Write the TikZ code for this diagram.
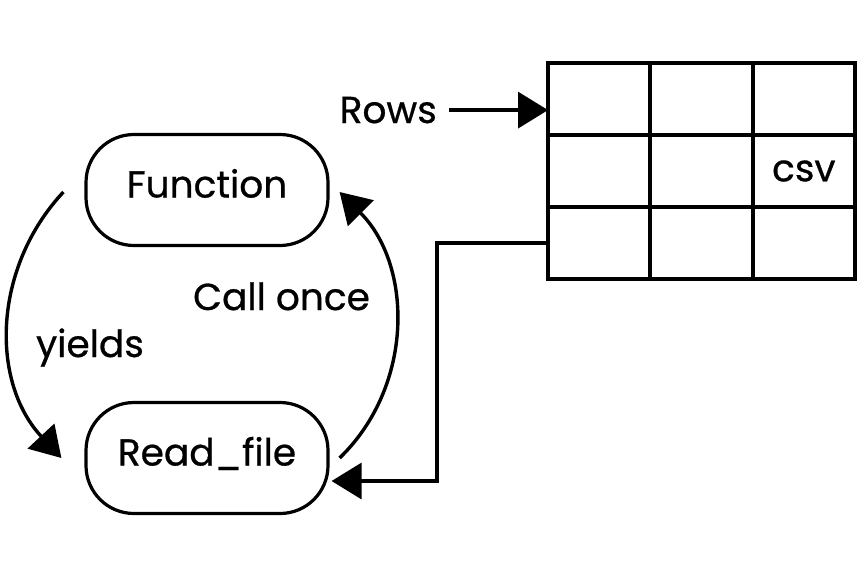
\documentclass[tikz,border=0pt]{standalone}
\usepackage{fontspec}
\setmainfont{Poppins}[FakeBold=0.7]
\usetikzlibrary{arrows.meta}
\begin{document}
\begin{tikzpicture}[x=1pt,y=1pt,
  lbl/.style={font=\fontsize{37.5}{40}\selectfont, inner sep=0pt},
  pill/.style={draw, line width=3.2pt, rounded corners=48pt, minimum width=242pt,
    minimum height=111pt, inner sep=0pt, text height=27pt, text depth=12pt,
    font=\fontsize{37.5}{40}\selectfont},
  cell/.style={draw, line width=4pt, minimum width=102.33pt, minimum height=72pt,
    inner sep=0pt, outer sep=0pt, font=\fontsize{37.5}{40}\selectfont},
  arr/.style={line width=3.4pt, -{Triangle[length=30pt,width=36pt]}}]
\useasboundingbox (0,-579) rectangle (864,0);

% pills
\node[pill] (fn) at (207,-190) {Function};
\node[pill] (rf) at (207,-458) {Read\_file};

% grid
\node[cell] (g11) at (599.2,-99) {};
\node[cell] (g12) at (701.5,-99) {};
\node[cell] (g13) at (803.8,-99) {};
\node[cell] (g21) at (599.2,-171) {};
\node[cell] (g22) at (701.5,-171) {};
\node[cell] (g23) at (803.8,-171) {csv};
\node[cell] (g31) at (599.2,-243) {};
\node[cell] (g32) at (701.5,-243) {};
\node[cell] (g33) at (803.8,-243) {};

% labels
\node[lbl, anchor=base east] (rows) at (437,-123) {Rows};
\node[lbl, anchor=base] (yl) at (90,-357) {yields};
\node[lbl, anchor=base] (cl) at (281.5,-310) {Call once};

% connectors
\draw[arr, shorten <=12pt] (rows.east) -- (rows.east -| g11.west);
\draw[arr] (g31.west) -- ++(-111,0) |- ([xshift=2pt,yshift=-23pt]rf.east);
\draw[arr] ([xshift=-21pt,yshift=-2pt]fn.west) to[out=227,in=133] ([xshift=-23pt]rf.west);
\draw[arr] ([xshift=10pt]rf.east) to[out=44,in=315] ([xshift=10pt,yshift=-2pt]fn.east);
\end{tikzpicture}
\end{document}
